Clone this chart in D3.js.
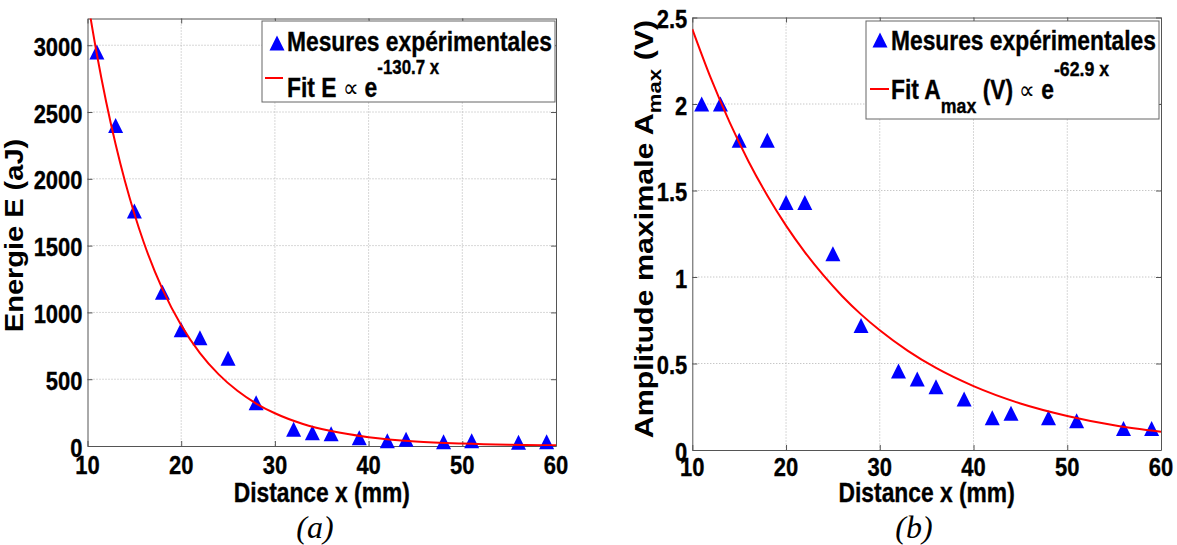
<!DOCTYPE html>
<html><head><meta charset="utf-8">
<script src="https://cdn.jsdelivr.net/npm/d3@7"></script>
<style>html,body{margin:0;padding:0;background:#fff;} svg{display:block;} text{white-space:pre;}</style>
</head><body>
<svg id="chart" width="1177" height="545"></svg>
<script>
// ---------- data ----------
const distances = [11, 13, 15, 18, 20, 22, 25, 28, 32, 34, 36, 39, 42, 44, 48, 51, 56, 59];
const energyValues = [2950, 2400, 1760, 1150, 870, 810, 656, 324, 125, 100, 92, 62, 40, 50, 32, 40, 28, 32];
const amplitudeValues = [2.0, 2.0, 1.79, 1.79, 1.43, 1.43, 1.135, 0.72, 0.457, 0.41, 0.366, 0.295, 0.187, 0.212, 0.187, 0.169, 0.125, 0.125];

const fitEnergyX = [10, 11, 12, 13, 14, 15, 16, 18, 20, 22, 24, 26, 28, 30, 33, 36, 40, 45, 50, 55, 60];
const fitEnergyY = [3341, 2932, 2573, 2258, 1981, 1739, 1525, 1174, 904, 696, 536, 413, 318, 245, 165, 112, 66, 34, 18, 9, 5];
const fitAmpX = [10, 12, 14, 16, 18, 20, 22, 24, 26, 28, 30, 33, 36, 40, 45, 50, 55, 60];
const fitAmpY = [2.433, 2.146, 1.892, 1.668, 1.471, 1.297, 1.144, 1.009, 0.889, 0.784, 0.692, 0.573, 0.474, 0.369, 0.269, 0.197, 0.143, 0.105];

const xTicks = [10, 20, 30, 40, 50, 60];
const xTickLabels = ["10", "20", "30", "40", "50", "60"];
const energyTicks = [0, 500, 1000, 1500, 2000, 2500, 3000];
const energyTickLabels = ["0", "500", "1000", "1500", "2000", "2500", "3000"];
const ampTicks = [0, 0.5, 1, 1.5, 2, 2.5];
const ampTickLabels = ["0", "0.5", "1", "1.5", "2", "2.5"];

const legendMarkerLabel = "Mesures expérimentales";
const xTitle = "Distance x (mm)";

// ---------- style ----------
const SX = 0.845;
const FONT = "'Liberation Sans', Arial, Helvetica, sans-serif";
const AXIS_COLOR = "#555";
const GRID_COLOR = "#b0b0b0";
const MARKER_COLOR = "#0000ff";
const FIT_COLOR = "#ff0000";

const svg = d3.select("#chart");
svg.append("rect").attr("width", 1177).attr("height", 545).attr("fill", "#fff");

function hText(parent, x, y, anchor, size) {
  const g = parent.append("g").attr("transform", `translate(${x},${y}) scale(${SX},1)`);
  return g.append("text").attr("x", 0).attr("y", 0)
    .attr("text-anchor", anchor).attr("font-family", FONT)
    .attr("font-weight", "bold").attr("font-size", size).attr("fill", "#000")
    .attr("stroke", "#000").attr("stroke-width", 0.35);
}

function triPath(w, h) {
  return `M0,${-h / 2}L${w / 2},${h / 2}L${-w / 2},${h / 2}Z`;
}

function drawPanel(cfg, idx) {
  const x = d3.scaleLinear().domain([10, 60]).range([cfg.left, cfg.right]);
  const y = d3.scaleLinear().domain(cfg.yDomain).range([cfg.bottom, cfg.top]);
  const g = svg.append("g");

  // grid
  const grid = g.append("g");
  xTicks.slice(1, -1).forEach(t => {
    grid.append("line").attr("x1", x(t)).attr("x2", x(t)).attr("y1", cfg.top).attr("y2", cfg.bottom)
      .attr("stroke", GRID_COLOR).attr("stroke-width", 1).attr("stroke-dasharray", "1,2");
  });
  cfg.yTicks.forEach(t => {
    if (t === cfg.yDomain[0] || t === cfg.yDomain[1]) return;
    grid.append("line").attr("x1", cfg.left).attr("x2", cfg.right).attr("y1", y(t)).attr("y2", y(t))
      .attr("stroke", GRID_COLOR).attr("stroke-width", 1).attr("stroke-dasharray", "1,2");
  });

  // axes via d3 axis generators (inward ticks on all four sides)
  const mk = (gen, tr) => {
    const a = g.append("g").attr("transform", tr).call(gen);
    a.selectAll("text").remove();
    a.select(".domain").attr("stroke", AXIS_COLOR);
    a.selectAll(".tick line").attr("stroke", AXIS_COLOR);
    return a;
  };
  mk(d3.axisBottom(x).tickValues(xTicks).tickSizeInner(-5).tickSizeOuter(0), `translate(0,${cfg.bottom})`);
  mk(d3.axisTop(x).tickValues(xTicks).tickSizeInner(-5).tickSizeOuter(0), `translate(0,${cfg.top})`);
  mk(d3.axisLeft(y).tickValues(cfg.yTicks).tickSizeInner(-5).tickSizeOuter(0), `translate(${cfg.left},0)`);
  mk(d3.axisRight(y).tickValues(cfg.yTicks).tickSizeInner(-5).tickSizeOuter(0), `translate(${cfg.right},0)`);

  // tick labels
  cfg.yTicks.forEach((t, i) => {
    hText(g, cfg.left - 5, y(t) + 10.5, "end", 26).text(cfg.yTickLabels[i]);
  });
  xTicks.forEach((t, i) => {
    hText(g, x(t), cfg.xLabelBase, "middle", 26).text(xTickLabels[i]);
  });

  // markers
  g.append("g").selectAll("path").data(distances.map((d, i) => [d, cfg.values[i]])).join("path")
    .attr("d", triPath(15, 15))
    .attr("transform", d => `translate(${x(d[0])},${y(d[1])})`)
    .attr("fill", MARKER_COLOR);

  // fit line (clipped)
  const clipId = "clip" + idx;
  svg.append("clipPath").attr("id", clipId).append("rect")
    .attr("x", cfg.left).attr("y", cfg.top).attr("width", cfg.right - cfg.left).attr("height", cfg.bottom - cfg.top);
  const line = d3.line().x(d => x(d[0])).y(d => y(d[1])).curve(d3.curveMonotoneX);
  g.append("path").datum(cfg.fitX.map((d, i) => [d, cfg.fitY[i]]))
    .attr("d", line).attr("fill", "none").attr("stroke", FIT_COLOR).attr("stroke-width", 2)
    .attr("clip-path", `url(#${clipId})`);

  // x title
  hText(g, (cfg.left + cfg.right) / 2, 502, "middle", 27).text(xTitle);

  // caption
  g.append("text").attr("x", cfg.captionX).attr("y", 538).attr("text-anchor", "middle")
    .attr("font-family", "'Liberation Serif', 'Times New Roman', serif").attr("font-style", "italic")
    .attr("font-size", 32).text(cfg.caption);

  // legend
  const L = cfg.legend;
  const lg = g.append("g");
  lg.append("rect").attr("x", L.x0).attr("y", L.y0).attr("width", L.x1 - L.x0).attr("height", L.y1 - L.y0)
    .attr("fill", "#fff").attr("stroke", "#666").attr("stroke-width", 1);
  lg.append("path").attr("d", triPath(15, 15)).attr("transform", `translate(${L.triX},${L.triY})`).attr("fill", MARKER_COLOR);
  hText(lg, L.textX, L.row1, "start", 27).text(legendMarkerLabel);
  lg.append("line").attr("x1", L.lineX0).attr("x2", L.lineX1).attr("y1", L.lineY).attr("y2", L.lineY)
    .attr("stroke", FIT_COLOR).attr("stroke-width", 2);
  const t2 = hText(lg, L.textX, L.row2, "start", 27);
  cfg.fitLabel(t2);

  // y title
  cfg.yTitle(g);
}

drawPanel({
  left: 87.5, right: 556, top: 18.5, bottom: 446, xLabelBase: 474,
  yDomain: [0, 3200], yTicks: energyTicks, yTickLabels: energyTickLabels,
  values: energyValues, fitX: fitEnergyX, fitY: fitEnergyY,
  caption: "(a)", captionX: 315,
  legend: { x0: 262, y0: 21, x1: 555, y1: 102, triX: 277, triY: 43, textX: 287, row1: 51,
            lineX0: 265, lineX1: 283, lineY: 78, row2: 97 },
  fitLabel: t => {
    t.append("tspan").text("Fit E ");
    t.append("tspan").attr("font-weight", "normal").attr("stroke-width", 0).attr("font-size", 26).text("∝");
    t.append("tspan").text(" e");
    t.append("tspan").attr("font-size", 20).attr("dy", -23).text("-130.7 x");
  },
  yTitle: g => {
    g.append("g").attr("transform", "translate(23,235.5) rotate(-90) scale(1.16,1)")
      .append("text").attr("text-anchor", "middle").attr("font-family", FONT)
      .attr("font-weight", "bold").attr("font-size", 25).text("Energie E (aJ)");
  }
}, 0);

drawPanel({
  left: 692.3, right: 1161, top: 17.5, bottom: 450, xLabelBase: 476,
  yDomain: [0, 2.5], yTicks: ampTicks, yTickLabels: ampTickLabels,
  values: amplitudeValues, fitX: fitAmpX, fitY: fitAmpY,
  caption: "(b)", captionX: 914,
  legend: { x0: 866, y0: 21, x1: 1159, y1: 119, triX: 880, triY: 40, textX: 891, row1: 50,
            lineX0: 870, lineX1: 889, lineY: 89, row2: 99 },
  fitLabel: t => {
    t.append("tspan").text("Fit A");
    t.append("tspan").attr("font-size", 21).attr("dy", 14).text("max");
    t.append("tspan").attr("dy", -14).text(" (V) ");
    t.append("tspan").attr("font-weight", "normal").attr("stroke-width", 0).attr("font-size", 26).text("∝");
    t.append("tspan").text(" e");
    t.append("tspan").attr("font-size", 21).attr("dy", -23).text("-62.9 x");
  },
  yTitle: g => {
    const t = g.append("g").attr("transform", "translate(653,229) rotate(-90) scale(1.17,1)")
      .append("text").attr("text-anchor", "middle").attr("font-family", FONT)
      .attr("font-weight", "bold").attr("font-size", 26);
    t.append("tspan").text("Amplitude maximale A");
    t.append("tspan").attr("font-size", 19).attr("dy", 8).text("max");
    t.append("tspan").attr("dy", -8).text(" (V)");
  }
}, 1);
</script>
</body></html>
